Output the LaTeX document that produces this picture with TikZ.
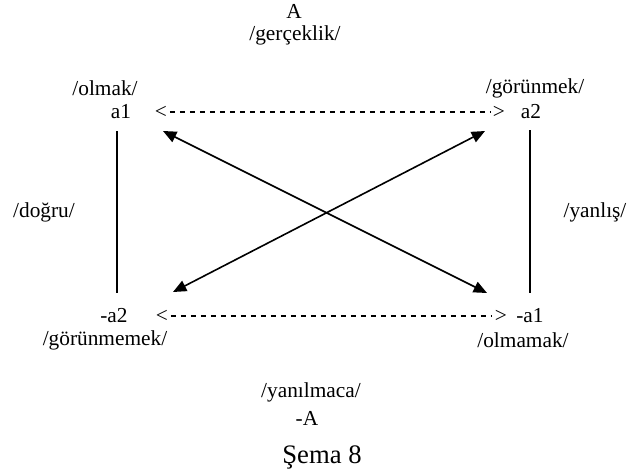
\documentclass[tikz,border=0pt]{standalone}
\usepackage{fontspec}
\setmainfont{Liberation Serif}
\usetikzlibrary{arrows.meta}

\begin{document}
\begin{tikzpicture}[x=0.75pt, y=-0.75pt,
  lbl/.style={font=\fontsize{16}{19}\selectfont, inner sep=0pt},
  side/.style={line width=1.2pt},
  arr/.style={{Triangle[length=10pt,width=8.5pt]}-{Triangle[length=10pt,width=8.5pt]}, line width=1.2pt},
  dsh/.style={dash pattern=on 3.75pt off 3.75pt, line width=0.9pt}
]
  \useasboundingbox (0,0) rectangle (629,475);
  % top and bottom terms
  \node[lbl] (A)    at (294,11)  {A};
  \node[lbl] (ger)  at (295,35)  {/gerçeklik/};
  \node[lbl] (yan)  at (311,392) {/yanılmaca/};
  \node[lbl] (nA)   at (307,418) {-A};
  \node[font=\fontsize{20}{24}\selectfont, inner sep=0pt] (cap) at (322,457) {Şema 8};
  % corners
  \node[lbl] (olmak) at (105,88)  {/olmak/};
  \node[lbl] (a1)    at (121,112) {a1};
  \node[lbl] (gor)   at (535,88)  {/görünmek/};
  \node[lbl] (a2)    at (531,112) {a2};
  \node[lbl] (na2)   at (114,316) {-a2};
  \node[lbl] (gorm)  at (105,340) {/görünmemek/};
  \node[lbl] (na1)   at (530,316) {-a1};
  \node[lbl] (olmam) at (523,340) {/olmamak/};
  % side labels
  \node[lbl] (dog) at (44,212)  {/doğru/};
  \node[lbl] (yal) at (595,212) {/yanlış/};
  % dashed links
  \node[lbl] (lt1) at (161,112) {<};
  \node[lbl] (gt1) at (499,112) {>};
  \node[lbl] (lt2) at (162,316) {<};
  \node[lbl] (gt2) at (501,316) {>};
  \draw[dsh] ([xshift=2pt]lt1.east) -- ([xshift=-2pt]gt1.west);
  \draw[dsh] ([xshift=2pt]lt2.east) -- ([xshift=-2pt]gt2.west);
  % sides
  \coordinate (l1) at (117,131);
  \coordinate (l2) at (117,293);
  \coordinate (r1) at (530,130);
  \coordinate (r2) at (530,293);
  \draw[side] (l1) -- (l2);
  \draw[side] (r1) -- (r2);
  % diagonals
  \coordinate (tl) at (163,131);
  \coordinate (tr) at (485,131);
  \coordinate (bl) at (173,292);
  \coordinate (br) at (487,293);
  \draw[arr] (tl) -- (br);
  \draw[arr] (bl) -- (tr);
\end{tikzpicture}
\end{document}
